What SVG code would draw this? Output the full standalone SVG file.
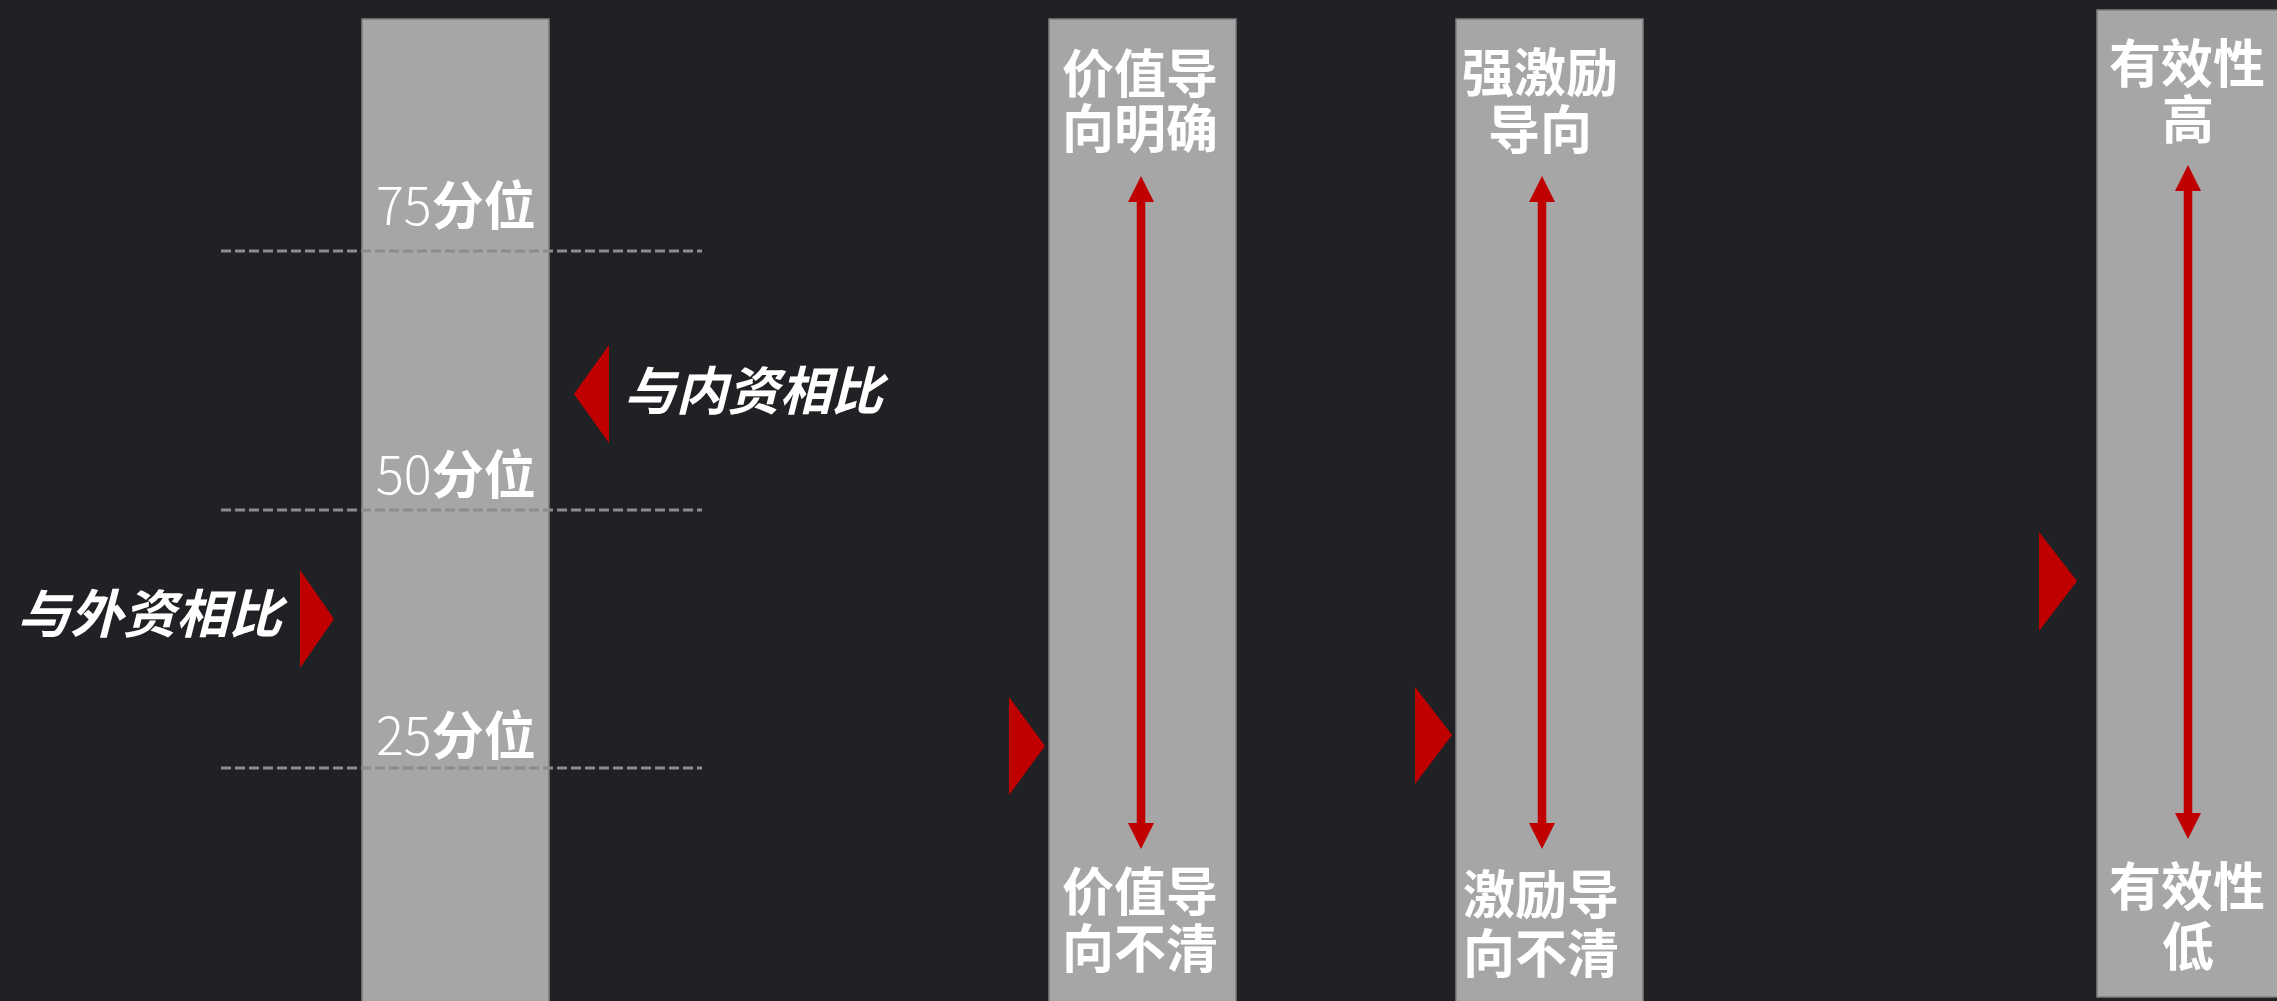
<svg xmlns="http://www.w3.org/2000/svg" width="2277" height="1001" viewBox="0 0 2277 1001">
<style>
.bar{fill:#A6A6A6;stroke:#7F7F7F;stroke-width:1.5}
.dash{stroke:#8C8C8C;stroke-width:3;stroke-dasharray:10 4;fill:none}
.tri{fill:#C00000}
.ln{stroke:#C00000;fill:none;stroke-width:8.5}
.hd{fill:#C00000}
.lab{font-family:"Noto Sans CJK SC","Noto Sans",sans-serif;fill:#FFFFFF;font-weight:700;font-size:52px;text-anchor:middle}
.pct{font-family:"Noto Sans CJK SC","Noto Sans",sans-serif;fill:#FFFFFF;font-size:52px}
.num{font-weight:300}
.cjk{font-weight:700}
.cmp{font-family:"Noto Sans CJK SC","Noto Sans",sans-serif;fill:#FFFFFF;font-weight:700;font-size:52px;font-style:italic}
</style>
<rect width="2277" height="1001" fill="#202124"/>

<g id="col-percentile">
<rect class="bar" x="362" y="19" width="187" height="990"/>
<line class="dash" x1="221" y1="251" x2="702" y2="251"/>
<line class="dash" x1="221" y1="510" x2="702" y2="510"/>
<line class="dash" x1="221" y1="768" x2="702" y2="768"/>
<text class="pct" x="376" y="225"><tspan class="num">75</tspan><tspan class="cjk">分位</tspan></text>
<text class="pct" x="376" y="494"><tspan class="num">50</tspan><tspan class="cjk">分位</tspan></text>
<text class="pct" x="376" y="755"><tspan class="num">25</tspan><tspan class="cjk">分位</tspan></text>
</g>

<g id="cmp-domestic">
<polygon class="tri" points="574,394 609,345 609,443"/>
<text class="cmp" x="624" y="410" textLength="259" lengthAdjust="spacingAndGlyphs">与内资相比</text>
</g>

<g id="cmp-foreign">
<polygon class="tri" points="334,619 300,570 300,668"/>
<text class="cmp" x="17" y="633" textLength="265" lengthAdjust="spacingAndGlyphs">与外资相比</text>
</g>

<g id="col-value">
<polygon class="tri" points="1045,746 1009,697 1009,795"/>
<rect class="bar" x="1049" y="19" width="187" height="990"/>
<text class="lab" x="1140" y="93">价值导</text>
<text class="lab" x="1140" y="148">向明确</text>
<text class="lab" x="1140" y="911">价值导</text>
<text class="lab" x="1140" y="968">向不清</text>
</g>

<g id="col-incentive">
<polygon class="tri" points="1452,735 1415,687 1415,784"/>
<rect class="bar" x="1456" y="19" width="187" height="990"/>
<text class="lab" x="1540" y="92">强激励</text>
<text class="lab" x="1540" y="149">导向</text>
<text class="lab" x="1541" y="914">激励导</text>
<text class="lab" x="1541" y="973">向不清</text>
</g>

<g id="col-effect">
<polygon class="tri" points="2077,581 2039,532 2039,631"/>
<rect class="bar" x="2097" y="10" width="200" height="987"/>
<text class="lab" x="2187" y="83">有效性</text>
<text class="lab" x="2188" y="139">高</text>
<text class="lab" x="2187" y="906">有效性</text>
<text class="lab" x="2188" y="966">低</text>
</g>

<g id="connectors">
<line class="ln" x1="1141" y1="198" x2="1141" y2="827"/>
<polygon class="hd" points="1141,176 1128,202 1154,202"/>
<polygon class="hd" points="1141,849 1128,823 1154,823"/>
<line class="ln" x1="1542" y1="198" x2="1542" y2="827"/>
<polygon class="hd" points="1542,176 1529,202 1555,202"/>
<polygon class="hd" points="1542,849 1529,823 1555,823"/>
<line class="ln" x1="2188" y1="188" x2="2188" y2="816"/>
<polygon class="hd" points="2188,165 2175,191 2201,191"/>
<polygon class="hd" points="2188,839 2175,813 2201,813"/>
</g>
</svg>
